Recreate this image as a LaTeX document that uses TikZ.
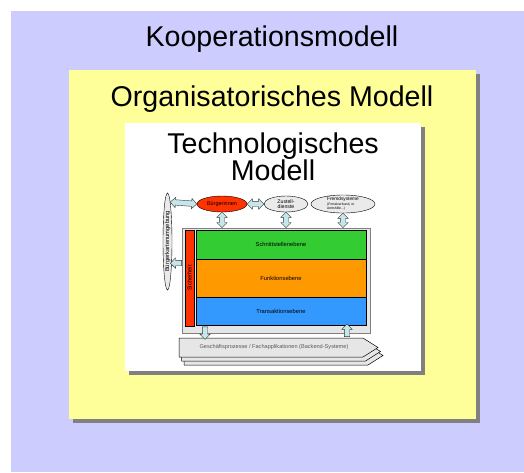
\documentclass[tikz,border=0pt]{standalone}
\usepackage{fontspec}
\setmainfont{Liberation Sans}
\usepackage{tikz}
\usetikzlibrary{calc, shapes.arrows, shapes.geometric, shadows}
\definecolor{lavender}{HTML}{CCCCFF}
\definecolor{paleyellow}{HTML}{FFFF99}
\definecolor{shadowgray}{HTML}{808080}
\definecolor{signalred}{HTML}{FF3300}
\definecolor{layergreen}{HTML}{33CC33}
\definecolor{layerorange}{HTML}{FF9900}
\definecolor{layerblue}{HTML}{3399FF}
\definecolor{ovalgray}{HTML}{EAEAEA}
\definecolor{framegray}{HTML}{E6E6E6}
\definecolor{arrowcyan}{HTML}{C6E6EA}
\newcommand{\fatarrow}[3]{\path let \p1=($(#3)-(#2)$), \n1={veclen(\x1,\y1)}, \n2={atan2(\y1,\x1)} in node[#1, minimum height=\n1, rotate=\n2] at ($(#2)!.5!(#3)$) {};}

\begin{document}
\begin{tikzpicture}[x=1pt, y=-1pt]
\tikzstyle{title}=[font=\fontsize{28.6}{27}\selectfont, anchor=base, align=center, inner sep=0pt]
\tikzstyle{panel}=[inner sep=0pt, drop shadow={shadow xshift=3.5pt, shadow yshift=-3.5pt, fill=shadowgray, opacity=1}]
\tikzstyle{oval}=[ellipse, draw=black, line width=.4pt, inner sep=0pt, align=center, fill=ovalgray, font=\fontsize{5.2}{5.6}\selectfont]
\tikzstyle{layer}=[draw=black, line width=.5pt, minimum width=170pt, inner sep=0pt, font=\fontsize{5.8}{6.5}\selectfont]
\tikzstyle{dbl}=[double arrow, draw=black!80, fill=arrowcyan, line width=.4pt, inner sep=2.5pt, double arrow head extend=2.5pt, minimum width=10pt]
\tikzstyle{sgl}=[single arrow, draw=black!80, fill=arrowcyan, line width=.4pt, inner sep=2.5pt, single arrow head extend=2.5pt, minimum width=10pt]
\tikzstyle{backend}=[draw=black, line width=.5pt, fill=framegray]

\useasboundingbox (0,0) rectangle (524,472);
\fill[lavender] (11,11) rectangle (524,472);

\node[panel, fill=paleyellow, minimum width=407pt, minimum height=349pt] (orgbox) at (272.5,244.5) {};
\node[panel, fill=white, minimum width=296pt, minimum height=248pt] (techbox) at (273,247) {};

\node[title] (koop) at (272,46.5) {Kooperationsmodell};
\node[title] (org) at (272,106) {Organisatorisches Modell};
\node[title] (tech) at (273,180.5) {Technologisches\\Modell};

\node[draw=shadowgray, line width=.6pt, fill=framegray, minimum width=188pt, minimum height=105pt] (fm) at (276,280.5) {};
\node[draw=black, line width=.5pt, fill=signalred, minimum width=9pt, minimum height=96pt, inner sep=0pt, font=\fontsize{5.8}{6}\selectfont] (si) at (189.5,278) {\rotatebox{90}{Sicherheit}};
\node[layer, fill=layergreen, minimum height=29pt] (sn) at (281,244.5) {Schnittstellenebene};
\node[layer, fill=layerorange, minimum height=38pt] (fu) at (281,278) {Funktionsebene};
\node[layer, fill=layerblue, minimum height=28pt] (ta) at (281,311) {Transaktionsebene};

\node[oval, minimum width=9pt, minimum height=97pt, font=\fontsize{5.8}{6}\selectfont] (bk) at (167.5,241.5) {\rotatebox{90}{Bürgerkartenumgebung}};
\node[oval, fill=signalred, minimum width=50pt, minimum height=16pt, font=\fontsize{5.5}{6}\selectfont] (bi) at (222,204) {Bürgerinnen};
\node[oval, minimum width=44pt, minimum height=16pt] (zu) at (286,204) {Zustell-\\dienste};
\node[oval, minimum width=64pt, minimum height=18pt, inner sep=-.5pt, align=left, font=\fontsize{4.8}{4.4}\selectfont] (fr) at (343,204) {Fremdsysteme\\{\fontsize{3.4}{3.8}\selectfont (Portalverbund, el.}\\{\fontsize{3.4}{3.8}\selectfont Amtshilfe...)}};

\foreach \s in {2,1,0}
  \draw[backend, shift={(2.5*\s,4*\s)}] (179,338) -- (363,338) -- (378,347.5) -- (363,357) -- (179,357) -- cycle;
\node[text=black!65, font=\fontsize{5.6}{6}\selectfont, inner sep=0pt] (gp) at (274,347.5) {Geschäftsprozesse / Fachapplikationen (Backend-Systeme)};
\coordinate (gptop) at (274,338);

\coordinate (s1) at (183,263);
\coordinate (d1) at (205,325.5);
\coordinate (u1) at (347,325.5);

\fatarrow{dbl}{bk.86}{bi.west}
\fatarrow{dbl}{bi.east}{zu.west}
\fatarrow{dbl}{bi.south}{bi.south |- fm.north}
\fatarrow{dbl}{zu.south}{zu.south |- fm.north}
\fatarrow{dbl}{fr.south}{fr.south |- fm.north}
\fatarrow{sgl}{s1}{bk.-79}
\fatarrow{sgl}{d1}{d1 |- gptop}
\fatarrow{sgl}{u1 |- gptop}{u1}

\end{tikzpicture}
\end{document}
